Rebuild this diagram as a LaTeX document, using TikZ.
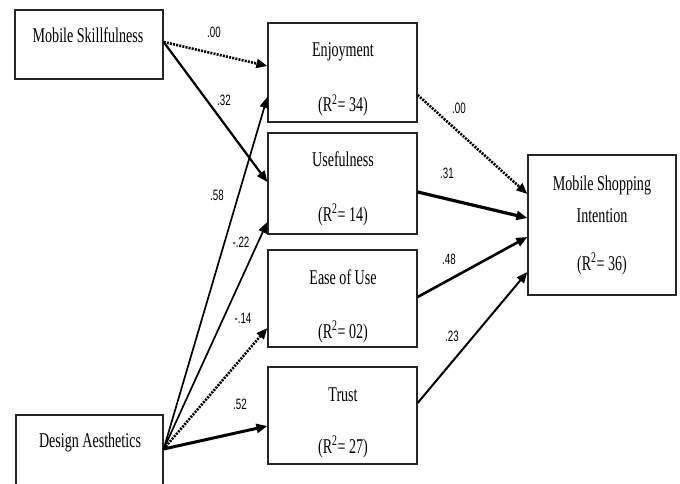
\documentclass[tikz,border=0pt]{standalone}
\usepackage{fontspec}
\setmainfont{Liberation Serif}[FakeStretch=0.67]
\newfontfamily\lblfont{Liberation Sans}[FakeStretch=0.65]
\usetikzlibrary{arrows.meta,calc}
\begin{document}
\begin{tikzpicture}[x=1pt,y=-1pt,
  box/.style={draw=black!85, line width=1.3pt, inner sep=0pt},
  txt/.style={anchor=base, inner sep=0pt, font=\fontsize{21}{25}\selectfont},
  lbl/.style={inner sep=0pt, font=\lblfont\fontsize{15}{17}\selectfont},
  arr/.style={-{Triangle[length=11pt,width=9pt]}, line width=#1},
  arr/.default=1.8pt,
  dots/.style={dash pattern=on 2pt off 1.2pt}]
\path[use as bounding box, fill=white] (0,0) rectangle (680,484);
\clip (0,0) rectangle (680,484);

% boxes
\node[box, minimum width=148pt, minimum height=69pt]  (ms)    at (89,44.5)    {};
\node[box, minimum width=149pt, minimum height=99pt]  (enj)   at (342.5,72.5) {};
\node[box, minimum width=149pt, minimum height=101pt] (use)   at (342.5,183.5){};
\node[box, minimum width=149pt, minimum height=97pt]  (ease)  at (342.5,298.5){};
\node[box, minimum width=149pt, minimum height=97pt]  (trust) at (342.5,415.5){};
\node[box, minimum width=148pt, minimum height=140pt] (msi)   at (602,225)    {};
\node[box, minimum width=147pt, minimum height=75pt]  (da)    at (89.5,452.5) {};

% texts
\node[txt] (msT)    at (88,43)    {Mobile Skillfulness};
\node[txt] (enjT)   at (343,57)   {Enjoyment};
\node[txt] (enjR)   at (343,112)  {(R\textsuperscript{2}= 34)};
\node[txt] (useT)   at (343,167)  {Usefulness};
\node[txt] (useR)   at (343,221)  {(R\textsuperscript{2}= 14)};
\node[txt] (easeT)  at (343,284)  {Ease of Use};
\node[txt] (easeR)  at (343,338)  {(R\textsuperscript{2}= 02)};
\node[txt] (trustT) at (343,401)  {Trust};
\node[txt] (trustR) at (343,453)  {(R\textsuperscript{2}= 27)};
\node[txt] (msiA)   at (602,190)  {Mobile Shopping};
\node[txt] (msiB)   at (602,222)  {Intention};
\node[txt] (msiR)   at (602,270)  {(R\textsuperscript{2}= 36)};
\node[txt] (daT)    at (90,447)   {Design Aesthetics};

% connectors
\draw[arr=2.6pt, dots] ([yshift=2.5pt]ms.east) -- ([yshift=6.5pt]enj.west);
\draw[arr=2.2pt] ([yshift=2.5pt]ms.east) -- ([yshift=1.5pt]use.west);
\draw[arr=1.7pt] ([yshift=3.5pt]da.east) -- ([yshift=-24.5pt]enj.west);
\draw[arr=1.7pt] ([yshift=3.5pt]da.east) -- ([yshift=-38.5pt]use.west);
\draw[arr=2.6pt, dots] ([yshift=3.5pt]da.east) -- ([yshift=-29.5pt]ease.west);
\draw[arr=3pt] ([yshift=3.5pt]da.east) -- ([yshift=-10.5pt]trust.west);
\draw[arr=2.6pt, dots] ([yshift=-22.5pt]enj.east) -- ([yshift=31pt]msi.west);
\draw[arr=3.2pt] ([yshift=-8.5pt]use.east) -- ([yshift=7pt]msi.west);
\draw[arr=2.6pt] ([yshift=1.5pt]ease.east) -- ([yshift=-12pt]msi.west);
\draw[arr=2pt] ([yshift=12.5pt]trust.east) -- ([yshift=-47pt]msi.west);

% coefficient labels
\node[lbl] (l1)  at (214,32)  {.00};
\node[lbl] (l2)  at (224,100) {.32};
\node[lbl] (l3)  at (217,195) {.58};
\node[lbl] (l4)  at (241,242) {-.22};
\node[lbl] (l5)  at (243,318) {-.14};
\node[lbl] (l6)  at (240,404) {.52};
\node[lbl] (l7)  at (459,108) {.00};
\node[lbl] (l8)  at (447,173) {.31};
\node[lbl] (l9)  at (449,259) {.48};
\node[lbl] (l10) at (452,336) {.23};
\end{tikzpicture}
\end{document}
